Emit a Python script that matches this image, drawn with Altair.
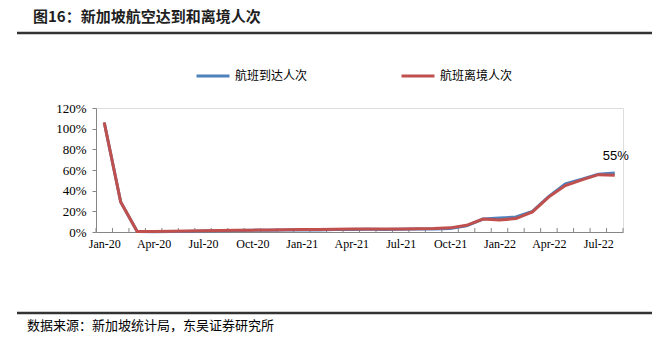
import altair as alt
import pandas as pd

months = ["Jan-20","Feb-20","Mar-20","Apr-20","May-20","Jun-20","Jul-20","Aug-20","Sep-20","Oct-20","Nov-20","Dec-20",
          "Jan-21","Feb-21","Mar-21","Apr-21","May-21","Jun-21","Jul-21","Aug-21","Sep-21","Oct-21","Nov-21","Dec-21",
          "Jan-22","Feb-22","Mar-22","Apr-22","May-22","Jun-22","Jul-22","Aug-22"]
arrivals = [106, 29, 0.5, 0.3, 0.4, 0.6, 1.0, 1.2, 1.4, 1.6, 1.8, 2.0,
            2.2, 2.0, 2.3, 2.5, 2.6, 2.5, 2.6, 2.8, 3.0, 3.5, 6.0, 12.5,
            13.5, 14.5, 20.0, 34.5, 46.5, 51.0, 56.0, 57.0]
departures = [106, 29, 0.5, 0.5, 0.7, 1.0, 1.3, 1.5, 1.6, 1.8, 2.0, 2.2,
              2.5, 2.3, 2.6, 2.8, 3.0, 2.9, 3.0, 3.2, 3.4, 4.0, 6.5, 12.5,
              11.5, 13.0, 19.5, 34.0, 45.0, 50.5, 55.5, 55.0]
series_names = ["航班到达人次", "航班离境人次"]
series_colors = ["#4F81BD", "#C0504D"]
y_ticks = [0, 20, 40, 60, 80, 100, 120]
label_every = 3
title_text = "图16：新加坡航空达到和离境人次"
source_text = "数据来源：新加坡统计局，东吴证券研究所"
end_label = "55%"

rows = []
for i, m in enumerate(months):
    rows.append({"idx": i, "month": m, "series": series_names[0], "value": arrivals[i]})
    rows.append({"idx": i, "month": m, "series": series_names[1], "value": departures[i]})
df = pd.DataFrame(rows)

n = len(months)
xscale = alt.Scale(domain=[-0.5, n - 0.5], nice=False, zero=False)
yscale = alt.Scale(domain=[0, 120], nice=False)
label_arr = "[" + ",".join("'" + m + "'" for m in months) + "]"

xaxis = alt.Axis(values=list(range(0, n, label_every)), labelExpr=label_arr + "[datum.value]",
                 ticks=False, grid=False, domainColor="#868686", domainWidth=1,
                 labelFont="Liberation Serif", labelFontSize=12, labelColor="#000",
                 labelPadding=6, labelOverlap=False, labelFlush=False, title=None)
yaxis = alt.Axis(values=y_ticks, labelExpr="datum.value + '%'", grid=False, tickSize=4, tickColor="#868686",
                 domainColor="#868686", labelFont="Liberation Serif", labelFontSize=13,
                 labelColor="#000", labelPadding=6, labelOverlap=False, labelFlush=False, title=None)

color = alt.Color("series:N", scale=alt.Scale(domain=series_names, range=series_colors),
                  legend=alt.Legend(orient="none", legendX=99, legendY=-50, direction="horizontal",
                                    title=None, symbolType="stroke", symbolSize=1089,
                                    symbolStrokeWidth=3, labelFont="Noto Sans CJK SC",
                                    labelFontSize=12, labelColor="#000", labelOffset=4,
                                    columnPadding=87))

X = alt.X("idx:Q", scale=xscale, axis=xaxis)
Y = alt.Y("value:Q", scale=yscale, axis=yaxis)

base = alt.Chart(df)
blue = base.transform_filter(alt.datum.series == series_names[0]).mark_line(strokeWidth=3).encode(
    x=X, y=Y, color=color)
red = base.transform_filter(alt.datum.series == series_names[1]).mark_line(strokeWidth=3).encode(
    x=X, y=Y, color=color)
lab = base.transform_filter((alt.datum.series == series_names[1]) & (alt.datum.idx == n - 1)).mark_text(
    font="Liberation Sans", fontSize=13, dy=-19, dx=1, color="#000"
).encode(x=X, y=Y, text=alt.value(end_label))

bounds = pd.DataFrame({"idx": [i - 0.5 for i in range(n + 1)]})
ticks = alt.Chart(bounds).mark_rule(color="#868686", strokeWidth=1).encode(
    x=X, y=alt.value(124), y2=alt.value(120))

one = pd.DataFrame({"a": [0]})
title = alt.Chart(one).mark_text(font="Noto Sans CJK SC", fontSize=15, fontWeight="bold", align="left",
                                 baseline="middle", color="#1F1F1F").encode(
    x=alt.value(33 - 96), y=alt.value(17 - 108), text=alt.value(title_text))
src = alt.Chart(one).mark_text(font="Noto Sans CJK SC", fontSize=13, align="left",
                               baseline="middle", color="#000").encode(
    x=alt.value(27 - 96), y=alt.value(326 - 108), text=alt.value(source_text))
top_rule = alt.Chart(one).mark_rule(color="#333", strokeWidth=2.5).encode(
    x=alt.value(17 - 96), x2=alt.value(652 - 96), y=alt.value(33 - 108))
bot_rule = alt.Chart(one).mark_rule(color="#333", strokeWidth=2.5).encode(
    x=alt.value(17 - 96), x2=alt.value(652 - 96), y=alt.value(313 - 108))

chart = alt.layer(ticks, blue, red, lab, title, src, top_rule, bot_rule).properties(
    width=527, height=124,
    autosize=alt.AutoSizeParams(type="none"),
    padding={"left": 96, "top": 108, "right": 47, "bottom": 109},
).configure_view(stroke=None).configure_axis(labelOverlap=False).configure(background="white")

chart.save("out.html", embed_options={"renderer": "svg", "actions": False})
